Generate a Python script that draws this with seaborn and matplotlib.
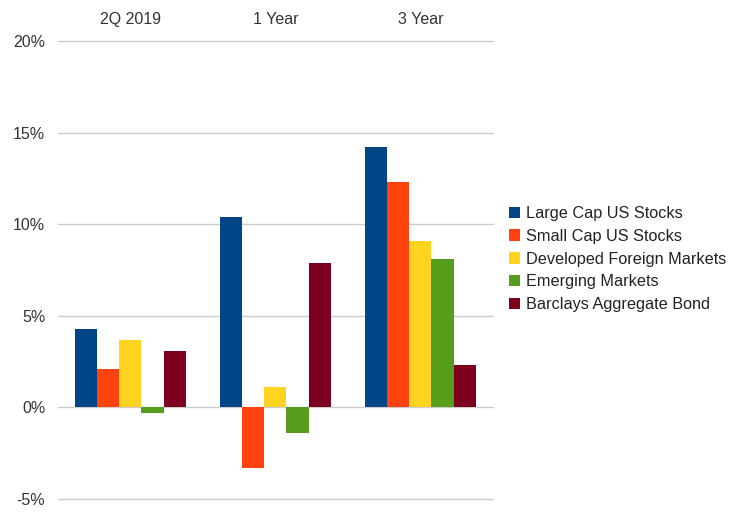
import pandas as pd
import matplotlib.pyplot as plt
import seaborn as sns

periods = ['2Q 2019', '1 Year', '3 Year']
series = ['Large Cap US Stocks', 'Small Cap US Stocks', 'Developed Foreign Markets',
          'Emerging Markets', 'Barclays Aggregate Bond']
large_cap = [4.3, 10.4, 14.2]
small_cap = [2.1, -3.3, 12.3]
developed = [3.7, 1.1, 9.1]
emerging = [-0.3, -1.4, 8.1]
barclays = [3.1, 7.9, 2.3]
colors = ['#004586', '#FF420E', '#FFD320', '#579D1C', '#7E0021']

rows = []
for name, vals in zip(series, [large_cap, small_cap, developed, emerging, barclays]):
    for p, v in zip(periods, vals):
        rows.append({'period': p, 'series': name, 'value': v})
df = pd.DataFrame(rows)

sns.set_style('white')
plt.rcParams['font.family'] = ['Liberation Sans', 'DejaVu Sans']

fig = plt.figure(figsize=(7.4, 5.19), dpi=100)
ax = fig.add_axes([0.078, 0.0385, 0.588, 0.8825])
sns.barplot(data=df, x='period', y='value', hue='series', palette=colors,
            width=0.765, saturation=1, ax=ax, edgecolor='none')

ax.set_ylim(-5, 20)
ax.set_yticks([-5, 0, 5, 10, 15, 20])
ax.set_yticklabels(['-5%', '0%', '5%', '10%', '15%', '20%'], fontsize=11.5, color='#333333')
ax.yaxis.grid(True, color='#cccccc', linewidth=1)
for gl in ax.get_ygridlines():
    gl.set_clip_on(False)
ax.set_axisbelow(True)
ax.xaxis.tick_top()
ax.tick_params(axis='x', labelsize=11.5, colors='#333333', length=0, pad=10)
ax.tick_params(axis='y', length=0, pad=9)
ax.set_xlabel('')
ax.set_ylabel('')
for s in ax.spines.values():
    s.set_visible(False)

ax.legend(loc='center left', bbox_to_anchor=(1.003, 0.524), frameon=False, fontsize=11.7,
          handlelength=0.7, handleheight=0.7, handletextpad=0.35, labelspacing=0.48,
          labelcolor='#222222')

fig.savefig('out.png', dpi=100)
